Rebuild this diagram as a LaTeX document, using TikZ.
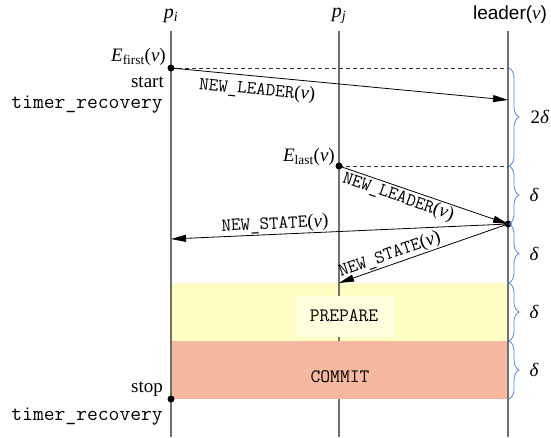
\documentclass[tikz,border=0pt]{standalone}
\usepackage{fontspec}
\setmainfont{Liberation Serif}
\setsansfont{Liberation Sans}
\usetikzlibrary{arrows.meta,decorations.pathreplacing}
\definecolor{mygray}{RGB}{112,112,112}
\definecolor{myblue}{RGB}{80,135,225}
\definecolor{myyellow}{RGB}{255,253,196}
\definecolor{mysalmon}{RGB}{246,185,160}
\definecolor{mylight}{RGB}{255,255,222}
\newcommand{\argv}{(\textit{ν})}
\newcommand{\msgtxt}[1]{{\fontsize{18.5}{20}\selectfont\texttt{#1}}\argv}

\begin{document}
\begin{tikzpicture}[x=1pt, y=-1pt, font=\fontsize{19}{22}\selectfont,
    >={Triangle[length=15pt,width=7pt]},
    proc/.style={mygray, line width=1.4pt},
    msg/.style={line width=0.8pt},
    guide/.style={dashed, dash pattern=on 4pt off 3pt, line width=0.8pt, black!80},
    bracket/.style={decorate, decoration={brace, amplitude=10pt, raise=1pt}, myblue, line width=0.8pt},
    phase/.style={minimum width=337pt, minimum height=58pt, inner sep=0pt}]
    \useasboundingbox (0,0) rectangle (551,437);
    \begin{scope}
        % Process names
        \node (pi) at (171,16) {\fontsize{20}{22}\selectfont\textit{p}\textsubscript{\textit{i}}};
        \node (pj) at (339,16) {\fontsize{20}{22}\selectfont\textit{p}\textsubscript{\textit{j}}};
        \node (leader) at (510,15) {\textsf{leader(}\textit{ν}\textsf{)}};

        % Phases
        \node[phase, fill=myyellow] (prepare) at (339.5,312) {};
        \draw[proc] (339,31) coordinate (pj top) -- (339,437) coordinate (pj bot);
        \node[phase, fill=mysalmon] (commit) at (339.5,370) {};
        \draw[proc] (171,31) coordinate (pi top) -- (171,437) coordinate (pi bot);
        \draw[proc] (508,31) coordinate (l top) -- (508,437) coordinate (l bot);
        \node[fill=mylight, minimum width=99pt, minimum height=41pt] (preparelabel)
            at (344,316) {\fontsize{19}{20}\selectfont\texttt{PREPARE}};
        \node (commitlabel) at (340,377) {\fontsize{19}{20}\selectfont\texttt{COMMIT}};

        % Events
        \coordinate (efirst) at (171,68);
        \coordinate (elast) at (339,166);
        \coordinate (l1) at (508,68);
        \coordinate (l2) at (508,166);
        \coordinate (ldot) at (508,224);
        \coordinate (l4) at (508,283);
        \coordinate (l5) at (508,341);
        \coordinate (stop) at (171,399);
        \coordinate (arr1) at (508,100);
        \coordinate (arr2) at (171,239);
        \coordinate (arr3) at (339,283);

        \node[anchor=east, inner sep=0pt] (efirstlabel) at (166,57)
            {\textit{E}\textsubscript{first}\argv};
        \node[anchor=east, inner sep=0pt] (startlabel) at (164,82) {start};
        \node[anchor=east, inner sep=0pt] (startname) at (163,105)
            {\fontsize{21}{22}\selectfont\texttt{timer\_recovery}};
        \node[anchor=east, inner sep=0pt] (elastlabel) at (335,157)
            {\textit{E}\textsubscript{last}\argv};
        \node[anchor=east, inner sep=0pt] (stoplabel) at (163,389) {stop};
        \node[anchor=east, inner sep=0pt] (stopname) at (163,417)
            {\fontsize{21}{22}\selectfont\texttt{timer\_recovery}};

        % Messages
        \draw[guide] (efirst) -- (l1);
        \draw[guide] (elast) -- (l2);
        \draw[msg, ->] (efirst) -- node[sloped, below, pos=0.26, inner sep=5pt] {\msgtxt{NEW\_LEADER}} (arr1);
        \draw[msg, ->] (elast) -- node[sloped, below, pos=0.37, inner sep=1pt] {\msgtxt{NEW\_LEADER}} (ldot);
        \draw[msg, <-] (arr2) -- node[sloped, above, pos=0.31, inner sep=1pt] {\msgtxt{NEW\_STATE}} (ldot);
        \draw[msg, <-] (arr3) -- node[sloped, above, pos=0.32, inner sep=1pt] {\msgtxt{NEW\_STATE}} (ldot);
        \fill (efirst) circle (3.5pt);
        \fill (elast) circle (3.5pt);
        \fill (ldot) circle (3.5pt);
        \fill (stop) circle (3.5pt);

        % Delays
        \draw[bracket] (l1) -- node[anchor=west, xshift=19pt, text=black] {2\textit{δ}} (l2);
        \draw[bracket] (l2) -- node[anchor=west, xshift=18pt, text=black] {\textit{δ}} (ldot);
        \draw[bracket] (ldot) -- node[anchor=west, xshift=18pt, text=black] {\textit{δ}} (l4);
        \draw[bracket] (l4) -- node[anchor=west, xshift=18pt, text=black] {\textit{δ}} (l5);
        \draw[bracket] (l5) -- node[anchor=west, xshift=18pt, text=black] {\textit{δ}} (stop -| l5);
    \end{scope}
\end{tikzpicture}
\end{document}
